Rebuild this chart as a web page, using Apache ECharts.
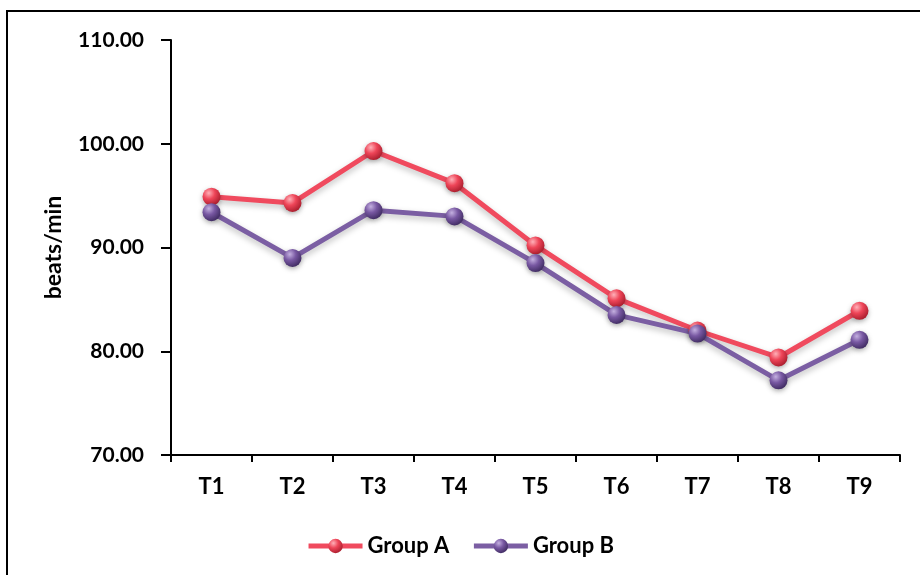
<!DOCTYPE html>
<html>
<head>
<meta charset="utf-8">
<script src="https://cdn.jsdelivr.net/npm/echarts@6/dist/echarts.min.js"></script>
<style>
  html, body { margin: 0; padding: 0; background: #fff; }
  #chart { width: 920px; height: 575px; }
</style>
</head>
<body>
<div id="chart"></div>
<script>
var categories = ['T1', 'T2', 'T3', 'T4', 'T5', 'T6', 'T7', 'T8', 'T9']
var groupA = [94.9, 94.3, 99.3, 96.2, 90.2, 85.1, 82.0, 79.4, 83.9]
var groupB = [93.4, 89.0, 93.6, 93.0, 88.5, 83.5, 81.7, 77.2, 81.1]

function ball(light, base, dark) {
  return new echarts.graphic.RadialGradient(0.35, 0.3, 0.75, [
    { offset: 0, color: light },
    { offset: 0.45, color: base },
    { offset: 1, color: dark }
  ])
}

function makeSeries(name, data, lineColor, light, base, dark) {
  return {
    name: name,
    type: 'line',
    data: data,
    symbol: 'circle',
    symbolSize: 18,
    lineStyle: {
      width: 5,
      color: lineColor,
      shadowBlur: 6,
      shadowColor: 'rgba(0,0,0,0.25)',
      shadowOffsetY: 3
    },
    itemStyle: {
      color: ball(light, base, dark),
      borderWidth: 0,
      shadowBlur: 5,
      shadowColor: 'rgba(0,0,0,0.3)',
      shadowOffsetY: 2
    },
    emphasis: { disabled: true }
  }
}

var font = 'Lato'
var chart = echarts.init(document.getElementById('chart'))
chart.setOption({
  animation: false,
  textStyle: { fontFamily: font, fontWeight: 'bold', color: '#000' },
  graphic: [{
    type: 'rect',
    shape: { x: 7, y: 11, width: 940, height: 600 },
    style: { fill: 'none', stroke: '#000', lineWidth: 2 },
    silent: true
  }],
  grid: { left: 171, top: 40, right: 20, bottom: 120 },
  legend: {
    top: 530,
    left: 'center',
    itemWidth: 54,
    itemHeight: 18,
    itemGap: 22,
    lineStyle: { width: 5 },
    textStyle: { fontSize: 22, fontWeight: 'bold', color: '#000', fontFamily: font },
    data: ['Group A', 'Group B']
  },
  xAxis: {
    type: 'category',
    data: categories,
    boundaryGap: true,
    axisLine: { lineStyle: { color: '#000', width: 2 } },
    axisTick: { show: true, length: 7, lineStyle: { color: '#000', width: 2 } },
    axisLabel: { fontSize: 22, fontWeight: 'bold', color: '#000', margin: 21, fontFamily: font }
  },
  yAxis: {
    type: 'value',
    min: 70,
    max: 110,
    interval: 10,
    name: 'beats/min',
    nameLocation: 'middle',
    nameGap: 106,
    nameRotate: 90,
    nameTextStyle: { fontSize: 23, fontWeight: 700, color: '#000', fontFamily: font },
    splitLine: { show: false },
    axisLine: { show: true, lineStyle: { color: '#000', width: 2 } },
    axisTick: { show: true, length: 10, lineStyle: { color: '#000', width: 2 } },
    axisLabel: {
      fontSize: 21,
      fontWeight: 'bold',
      color: '#000',
      margin: 27,
      fontFamily: font,
      formatter: function (v) { return v.toFixed(2) }
    }
  },
  series: [
    makeSeries('Group A', groupA, '#f04a5e', '#ffb0b8', '#ee4558', '#a81c2c'),
    makeSeries('Group B', groupB, '#7b5ea3', '#c4b0e0', '#7858a2', '#3e2a60')
  ]
})
</script>
</body>
</html>
